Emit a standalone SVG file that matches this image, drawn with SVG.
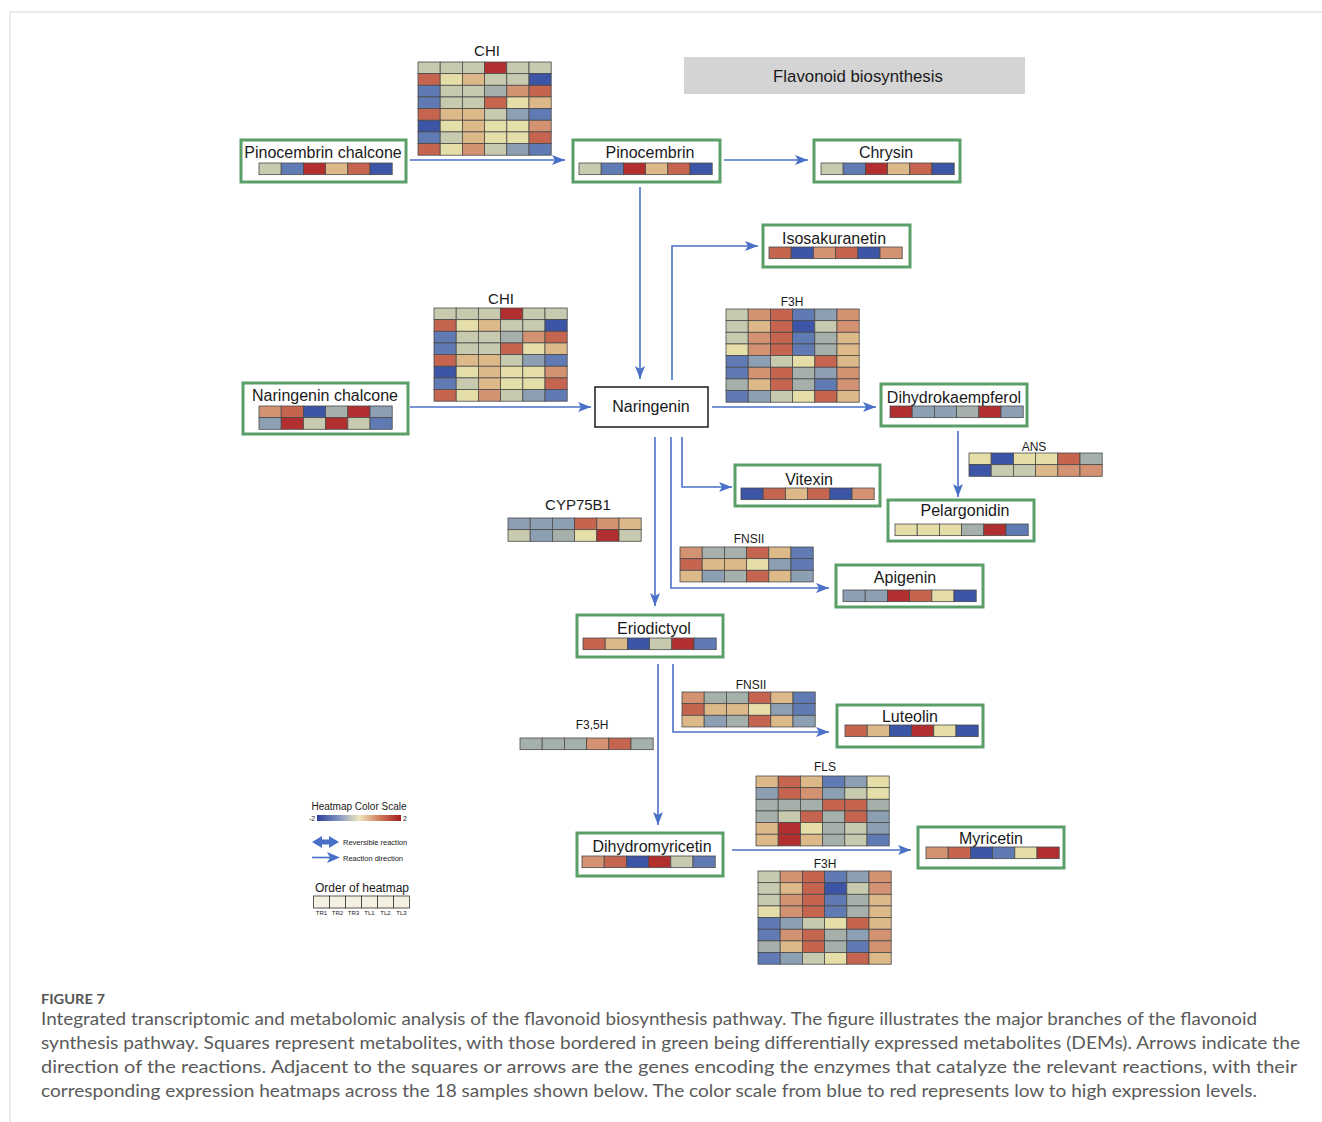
<svg xmlns="http://www.w3.org/2000/svg" xmlns:xlink="http://www.w3.org/1999/xlink" width="1322" height="1122" viewBox="0 0 1322 1122">
<style>
text{font-family:"Liberation Sans",Arial,sans-serif;fill:#1a1a1a}
.nl{font-size:16px;text-anchor:middle}
.el{font-size:12px;text-anchor:middle}
.elb{font-size:15px;text-anchor:middle}
.node rect.box{fill:#fff;stroke:#5a9e68;stroke-width:3}
.hm rect{width:22.2px;height:11.65px;stroke:#4a4a4a;stroke-width:0.8}
.R{fill:#b22f2f}.r{fill:#c5654f}.o{fill:#d39272}.t{fill:#ddb98a}.y{fill:#e6dea8}
.g{fill:#c7caae}.s{fill:#a5b0ab}.b{fill:#8d9fb2}.m{fill:#607ab3}.B{fill:#3c55a6}
.con path{fill:none;stroke:#4a70c8;stroke-width:1.6;marker-end:url(#ah)}
.cap{font-family:Lato,"Open Sans",sans-serif;font-size:17px;fill:#5a5a5a}
.leg{font-size:7.5px}
</style>
<defs>
<marker id="ah" markerUnits="userSpaceOnUse" markerWidth="14" markerHeight="10" refX="13" refY="5" orient="auto">
<path d="M0,0 L13,5 L0,10 L3,5 z" fill="#4a70c8"/>
</marker>
<linearGradient id="grad" x1="0" x2="1" y1="0" y2="0">
<stop offset="0" stop-color="#2d3f99"/><stop offset="0.25" stop-color="#7f90c2"/><stop offset="0.5" stop-color="#efe7bd"/><stop offset="0.75" stop-color="#d27a5a"/><stop offset="1" stop-color="#a51d1d"/>
</linearGradient>
<g id="hm-chi" class="hm">
<rect class="g" x="0" y="0"/><rect class="g" x="22.2" y="0"/><rect class="g" x="44.4" y="0"/><rect class="R" x="66.6" y="0"/><rect class="g" x="88.8" y="0"/><rect class="g" x="111" y="0"/>
<rect class="r" x="0" y="11.65"/><rect class="y" x="22.2" y="11.65"/><rect class="t" x="44.4" y="11.65"/><rect class="g" x="66.6" y="11.65"/><rect class="g" x="88.8" y="11.65"/><rect class="B" x="111" y="11.65"/>
<rect class="m" x="0" y="23.3"/><rect class="g" x="22.2" y="23.3"/><rect class="g" x="44.4" y="23.3"/><rect class="s" x="66.6" y="23.3"/><rect class="o" x="88.8" y="23.3"/><rect class="r" x="111" y="23.3"/>
<rect class="m" x="0" y="34.95"/><rect class="g" x="22.2" y="34.95"/><rect class="g" x="44.4" y="34.95"/><rect class="r" x="66.6" y="34.95"/><rect class="y" x="88.8" y="34.95"/><rect class="t" x="111" y="34.95"/>
<rect class="r" x="0" y="46.6"/><rect class="t" x="22.2" y="46.6"/><rect class="t" x="44.4" y="46.6"/><rect class="g" x="66.6" y="46.6"/><rect class="b" x="88.8" y="46.6"/><rect class="m" x="111" y="46.6"/>
<rect class="B" x="0" y="58.25"/><rect class="y" x="22.2" y="58.25"/><rect class="t" x="44.4" y="58.25"/><rect class="y" x="66.6" y="58.25"/><rect class="y" x="88.8" y="58.25"/><rect class="o" x="111" y="58.25"/>
<rect class="m" x="0" y="69.9"/><rect class="g" x="22.2" y="69.9"/><rect class="t" x="44.4" y="69.9"/><rect class="y" x="66.6" y="69.9"/><rect class="y" x="88.8" y="69.9"/><rect class="r" x="111" y="69.9"/>
<rect class="r" x="0" y="81.55"/><rect class="y" x="22.2" y="81.55"/><rect class="o" x="44.4" y="81.55"/><rect class="g" x="66.6" y="81.55"/><rect class="b" x="88.8" y="81.55"/><rect class="m" x="111" y="81.55"/>
</g>
<g id="hm-f3h" class="hm">
<rect class="g" x="0" y="0"/><rect class="o" x="22.2" y="0"/><rect class="r" x="44.4" y="0"/><rect class="m" x="66.6" y="0"/><rect class="b" x="88.8" y="0"/><rect class="o" x="111" y="0"/>
<rect class="g" x="0" y="11.65"/><rect class="t" x="22.2" y="11.65"/><rect class="r" x="44.4" y="11.65"/><rect class="B" x="66.6" y="11.65"/><rect class="g" x="88.8" y="11.65"/><rect class="o" x="111" y="11.65"/>
<rect class="g" x="0" y="23.3"/><rect class="o" x="22.2" y="23.3"/><rect class="r" x="44.4" y="23.3"/><rect class="m" x="66.6" y="23.3"/><rect class="s" x="88.8" y="23.3"/><rect class="t" x="111" y="23.3"/>
<rect class="y" x="0" y="34.95"/><rect class="o" x="22.2" y="34.95"/><rect class="r" x="44.4" y="34.95"/><rect class="m" x="66.6" y="34.95"/><rect class="s" x="88.8" y="34.95"/><rect class="t" x="111" y="34.95"/>
<rect class="m" x="0" y="46.6"/><rect class="b" x="22.2" y="46.6"/><rect class="g" x="44.4" y="46.6"/><rect class="y" x="66.6" y="46.6"/><rect class="r" x="88.8" y="46.6"/><rect class="t" x="111" y="46.6"/>
<rect class="m" x="0" y="58.25"/><rect class="o" x="22.2" y="58.25"/><rect class="r" x="44.4" y="58.25"/><rect class="s" x="66.6" y="58.25"/><rect class="b" x="88.8" y="58.25"/><rect class="o" x="111" y="58.25"/>
<rect class="s" x="0" y="69.9"/><rect class="t" x="22.2" y="69.9"/><rect class="r" x="44.4" y="69.9"/><rect class="s" x="66.6" y="69.9"/><rect class="m" x="88.8" y="69.9"/><rect class="o" x="111" y="69.9"/>
<rect class="m" x="0" y="81.55"/><rect class="b" x="22.2" y="81.55"/><rect class="g" x="44.4" y="81.55"/><rect class="y" x="66.6" y="81.55"/><rect class="r" x="88.8" y="81.55"/><rect class="t" x="111" y="81.55"/>
</g>
<g id="hm-fnsii" class="hm">
<rect class="o" x="0" y="0"/><rect class="s" x="22.2" y="0"/><rect class="s" x="44.4" y="0"/><rect class="r" x="66.6" y="0"/><rect class="t" x="88.8" y="0"/><rect class="m" x="111" y="0"/>
<rect class="r" x="0" y="11.65"/><rect class="t" x="22.2" y="11.65"/><rect class="t" x="44.4" y="11.65"/><rect class="y" x="66.6" y="11.65"/><rect class="b" x="88.8" y="11.65"/><rect class="m" x="111" y="11.65"/>
<rect class="t" x="0" y="23.3"/><rect class="b" x="22.2" y="23.3"/><rect class="s" x="44.4" y="23.3"/><rect class="r" x="66.6" y="23.3"/><rect class="t" x="88.8" y="23.3"/><rect class="b" x="111" y="23.3"/>
</g>
</defs>

<rect x="0" y="0" width="1322" height="1122" fill="#fff"/>
<line x1="10" y1="12" x2="1322" y2="12" stroke="#d8d8d8" stroke-width="1"/>
<line x1="10" y1="12" x2="10" y2="1122" stroke="#d8d8d8" stroke-width="1"/>

<g id="title">
<rect x="684" y="57" width="341" height="37" fill="#d4d4d4"/>
<text x="858" y="81.5" style="font-size:16.8px;text-anchor:middle">Flavonoid biosynthesis</text>
</g>

<g id="connectors" class="con">
<path d="M410,160 H565"/>
<path d="M724,160 H808"/>
<path d="M640,187 V379"/>
<path d="M672,380 V246 H758"/>
<path d="M410,407 H591"/>
<path d="M712,407 H876"/>
<path d="M958,431 V497"/>
<path d="M682,437 V487 H732"/>
<path d="M671,437 V588 H829"/>
<path d="M655,437 V606"/>
<path d="M658,664 V825"/>
<path d="M673,664 V732 H829"/>
<path d="M732,850 H911"/>
</g>

<g id="enz-chi-1"><text x="487" y="56" class="elb">CHI</text><use href="#hm-chi" x="418" y="62"/></g>
<g id="enz-chi-2"><text x="501" y="304" class="elb">CHI</text><use href="#hm-chi" x="434" y="308"/></g>
<g id="enz-f3h-1"><text x="792" y="306" class="el">F3H</text><use href="#hm-f3h" x="726" y="309"/></g>
<g id="enz-f3h-2"><text x="825" y="868" class="el">F3H</text><use href="#hm-f3h" x="758" y="871"/></g>
<g id="enz-fnsii-1"><text x="749" y="543" class="el">FNSII</text><use href="#hm-fnsii" x="680" y="547"/></g>
<g id="enz-fnsii-2"><text x="751" y="689" class="el">FNSII</text><use href="#hm-fnsii" x="682" y="692"/></g>
<g id="enz-ans"><text x="1034" y="451" class="el">ANS</text>
<g class="hm" transform="translate(969,453)">
<rect class="y" x="0" y="0"/><rect class="B" x="22.2" y="0"/><rect class="y" x="44.4" y="0"/><rect class="y" x="66.6" y="0"/><rect class="r" x="88.8" y="0"/><rect class="s" x="111" y="0"/>
<rect class="B" x="0" y="11.65"/><rect class="g" x="22.2" y="11.65"/><rect class="g" x="44.4" y="11.65"/><rect class="t" x="66.6" y="11.65"/><rect class="o" x="88.8" y="11.65"/><rect class="o" x="111" y="11.65"/>
</g></g>
<g id="enz-cyp75b1"><text x="578" y="510" class="elb">CYP75B1</text>
<g class="hm" transform="translate(508,518)">
<rect class="b" x="0" y="0"/><rect class="b" x="22.2" y="0"/><rect class="b" x="44.4" y="0"/><rect class="r" x="66.6" y="0"/><rect class="o" x="88.8" y="0"/><rect class="t" x="111" y="0"/>
<rect class="g" x="0" y="11.65"/><rect class="b" x="22.2" y="11.65"/><rect class="s" x="44.4" y="11.65"/><rect class="y" x="66.6" y="11.65"/><rect class="R" x="88.8" y="11.65"/><rect class="g" x="111" y="11.65"/>
</g></g>
<g id="enz-f35h"><text x="592" y="729" class="el">F3,5H</text>
<g class="hm" transform="translate(520,738)">
<rect class="s" x="0" y="0"/><rect class="s" x="22.2" y="0"/><rect class="s" x="44.4" y="0"/><rect class="o" x="66.6" y="0"/><rect class="r" x="88.8" y="0"/><rect class="s" x="111" y="0"/>
</g></g>
<g id="enz-fls"><text x="825" y="771" class="el">FLS</text>
<g class="hm" transform="translate(756,776)">
<rect class="t" x="0" y="0"/><rect class="r" x="22.2" y="0"/><rect class="t" x="44.4" y="0"/><rect class="m" x="66.6" y="0"/><rect class="b" x="88.8" y="0"/><rect class="y" x="111" y="0"/>
<rect class="b" x="0" y="11.65"/><rect class="r" x="22.2" y="11.65"/><rect class="o" x="44.4" y="11.65"/><rect class="b" x="66.6" y="11.65"/><rect class="g" x="88.8" y="11.65"/><rect class="y" x="111" y="11.65"/>
<rect class="s" x="0" y="23.3"/><rect class="s" x="22.2" y="23.3"/><rect class="s" x="44.4" y="23.3"/><rect class="r" x="66.6" y="23.3"/><rect class="r" x="88.8" y="23.3"/><rect class="s" x="111" y="23.3"/>
<rect class="s" x="0" y="34.95"/><rect class="g" x="22.2" y="34.95"/><rect class="r" x="44.4" y="34.95"/><rect class="s" x="66.6" y="34.95"/><rect class="r" x="88.8" y="34.95"/><rect class="b" x="111" y="34.95"/>
<rect class="t" x="0" y="46.6"/><rect class="R" x="22.2" y="46.6"/><rect class="y" x="44.4" y="46.6"/><rect class="s" x="66.6" y="46.6"/><rect class="g" x="88.8" y="46.6"/><rect class="b" x="111" y="46.6"/>
<rect class="t" x="0" y="58.25"/><rect class="R" x="22.2" y="58.25"/><rect class="t" x="44.4" y="58.25"/><rect class="s" x="66.6" y="58.25"/><rect class="g" x="88.8" y="58.25"/><rect class="m" x="111" y="58.25"/>
</g></g>

<g id="node-pinocembrin-chalcone" class="node">
<rect class="box" x="241" y="140" width="165" height="42"/>
<text x="323" y="158" class="nl">Pinocembrin chalcone</text>
<g class="hm" transform="translate(259,163)"><rect class="g" x="0" y="0"/><rect class="m" x="22.2" y="0"/><rect class="R" x="44.4" y="0"/><rect class="t" x="66.6" y="0"/><rect class="r" x="88.8" y="0"/><rect class="B" x="111" y="0"/></g>
</g>
<g id="node-pinocembrin" class="node">
<rect class="box" x="573" y="140" width="147" height="42"/>
<text x="650" y="158" class="nl">Pinocembrin</text>
<g class="hm" transform="translate(579,163)"><rect class="g" x="0" y="0"/><rect class="m" x="22.2" y="0"/><rect class="R" x="44.4" y="0"/><rect class="t" x="66.6" y="0"/><rect class="r" x="88.8" y="0"/><rect class="B" x="111" y="0"/></g>
</g>
<g id="node-chrysin" class="node">
<rect class="box" x="814" y="140" width="146" height="42"/>
<text x="886" y="158" class="nl">Chrysin</text>
<g class="hm" transform="translate(821,163)"><rect class="g" x="0" y="0"/><rect class="m" x="22.2" y="0"/><rect class="R" x="44.4" y="0"/><rect class="t" x="66.6" y="0"/><rect class="r" x="88.8" y="0"/><rect class="B" x="111" y="0"/></g>
</g>
<g id="node-isosakuranetin" class="node">
<rect class="box" x="763" y="225" width="147" height="42"/>
<text x="834" y="244" class="nl">Isosakuranetin</text>
<g class="hm" transform="translate(769,247)"><rect class="r" x="0" y="0"/><rect class="B" x="22.2" y="0"/><rect class="o" x="44.4" y="0"/><rect class="r" x="66.6" y="0"/><rect class="B" x="88.8" y="0"/><rect class="o" x="111" y="0"/></g>
</g>
<g id="node-naringenin-chalcone" class="node">
<rect class="box" x="243" y="383" width="165" height="51"/>
<text x="325" y="401" class="nl">Naringenin chalcone</text>
<g class="hm" transform="translate(259,406)">
<rect class="o" x="0" y="0"/><rect class="r" x="22.2" y="0"/><rect class="B" x="44.4" y="0"/><rect class="s" x="66.6" y="0"/><rect class="R" x="88.8" y="0"/><rect class="b" x="111" y="0"/>
<rect class="b" x="0" y="11.65"/><rect class="R" x="22.2" y="11.65"/><rect class="g" x="44.4" y="11.65"/><rect class="R" x="66.6" y="11.65"/><rect class="g" x="88.8" y="11.65"/><rect class="m" x="111" y="11.65"/>
</g>
</g>
<g id="node-naringenin">
<rect x="595" y="387" width="113" height="40" fill="#fff" stroke="#1a1a1a" stroke-width="1.5"/>
<text x="651" y="412" class="nl">Naringenin</text>
</g>
<g id="node-dihydrokaempferol" class="node">
<rect class="box" x="881" y="384" width="146" height="42"/>
<text x="954" y="403" class="nl">Dihydrokaempferol</text>
<g class="hm" transform="translate(890,406)"><rect class="R" x="0" y="0"/><rect class="b" x="22.2" y="0"/><rect class="b" x="44.4" y="0"/><rect class="s" x="66.6" y="0"/><rect class="R" x="88.8" y="0"/><rect class="b" x="111" y="0"/></g>
</g>
<g id="node-vitexin" class="node">
<rect class="box" x="735" y="465" width="145" height="41"/>
<text x="809" y="485" class="nl">Vitexin</text>
<g class="hm" transform="translate(741,488)"><rect class="B" x="0" y="0"/><rect class="r" x="22.2" y="0"/><rect class="t" x="44.4" y="0"/><rect class="r" x="66.6" y="0"/><rect class="B" x="88.8" y="0"/><rect class="o" x="111" y="0"/></g>
</g>
<g id="node-pelargonidin" class="node">
<rect class="box" x="888" y="500" width="146" height="41"/>
<text x="965" y="516" class="nl">Pelargonidin</text>
<g class="hm" transform="translate(895,524)"><rect class="y" x="0" y="0"/><rect class="y" x="22.2" y="0"/><rect class="y" x="44.4" y="0"/><rect class="s" x="66.6" y="0"/><rect class="R" x="88.8" y="0"/><rect class="m" x="111" y="0"/></g>
</g>
<g id="node-apigenin" class="node">
<rect class="box" x="836" y="565" width="147" height="42"/>
<text x="905" y="583" class="nl">Apigenin</text>
<g class="hm" transform="translate(843,590)"><rect class="b" x="0" y="0"/><rect class="b" x="22.2" y="0"/><rect class="R" x="44.4" y="0"/><rect class="r" x="66.6" y="0"/><rect class="y" x="88.8" y="0"/><rect class="B" x="111" y="0"/></g>
</g>
<g id="node-eriodictyol" class="node">
<rect class="box" x="577" y="615" width="146" height="42"/>
<text x="654" y="634" class="nl">Eriodictyol</text>
<g class="hm" transform="translate(583,638)"><rect class="r" x="0" y="0"/><rect class="t" x="22.2" y="0"/><rect class="B" x="44.4" y="0"/><rect class="g" x="66.6" y="0"/><rect class="R" x="88.8" y="0"/><rect class="m" x="111" y="0"/></g>
</g>
<g id="node-luteolin" class="node">
<rect class="box" x="837" y="705" width="146" height="42"/>
<text x="910" y="722" class="nl">Luteolin</text>
<g class="hm" transform="translate(845,725)"><rect class="r" x="0" y="0"/><rect class="t" x="22.2" y="0"/><rect class="B" x="44.4" y="0"/><rect class="R" x="66.6" y="0"/><rect class="y" x="88.8" y="0"/><rect class="B" x="111" y="0"/></g>
</g>
<g id="node-dihydromyricetin" class="node">
<rect class="box" x="577" y="833" width="146" height="43"/>
<text x="652" y="852" class="nl">Dihydromyricetin</text>
<g class="hm" transform="translate(582,856)"><rect class="o" x="0" y="0"/><rect class="r" x="22.2" y="0"/><rect class="B" x="44.4" y="0"/><rect class="R" x="66.6" y="0"/><rect class="g" x="88.8" y="0"/><rect class="m" x="111" y="0"/></g>
</g>
<g id="node-myricetin" class="node">
<rect class="box" x="918" y="827" width="146" height="41"/>
<text x="991" y="844" class="nl">Myricetin</text>
<g class="hm" transform="translate(926,847)"><rect class="o" x="0" y="0"/><rect class="r" x="22.2" y="0"/><rect class="B" x="44.4" y="0"/><rect class="m" x="66.6" y="0"/><rect class="y" x="88.8" y="0"/><rect class="R" x="111" y="0"/></g>
</g>

<g id="legend">
<text x="359" y="810" style="font-size:10px;text-anchor:middle">Heatmap Color Scale</text>
<text x="312" y="821" style="font-size:7px;text-anchor:middle">-2</text>
<rect x="317" y="815" width="84" height="6" fill="url(#grad)"/>
<text x="405" y="821" style="font-size:7px;text-anchor:middle">2</text>
<polygon points="312,842 322,836 322,839.5 329,839.5 329,836 339,842 329,848 329,844.5 322,844.5 322,848" fill="#4a70c8"/>
<text x="343" y="844.5" class="leg">Reversible reaction</text>
<line x1="312" y1="857.5" x2="330" y2="857.5" stroke="#4a70c8" stroke-width="1.6"/>
<polygon points="327,852 340,857.5 327,863 330,857.5" fill="#4a70c8"/>
<text x="343" y="860.5" class="leg">Reaction direction</text>
<text x="362" y="892" style="font-size:12px;text-anchor:middle">Order of heatmap</text>
<g fill="#f4f1e3" stroke="#333" stroke-width="0.8">
<rect x="313.5" y="896" width="16" height="12"/><rect x="329.5" y="896" width="16" height="12"/><rect x="345.5" y="896" width="16" height="12"/><rect x="361.5" y="896" width="16" height="12"/><rect x="377.5" y="896" width="16" height="12"/><rect x="393.5" y="896" width="16" height="12"/>
</g>
<g style="font-size:6px;text-anchor:middle">
<text x="321.5" y="915">TR1</text><text x="337.5" y="915">TR2</text><text x="353.5" y="915">TR3</text><text x="369.5" y="915">TL1</text><text x="385.5" y="915">TL2</text><text x="401.5" y="915">TL3</text>
</g>
</g>

<g id="caption">
<text x="41" y="1004" style="font-family:Lato,'Open Sans',sans-serif;font-size:13px;fill:#555;font-weight:bold" textLength="64" lengthAdjust="spacingAndGlyphs">FIGURE 7</text>
<text x="41" y="1025" class="cap" textLength="1216" lengthAdjust="spacingAndGlyphs">Integrated transcriptomic and metabolomic analysis of the flavonoid biosynthesis pathway. The figure illustrates the major branches of the flavonoid</text>
<text x="41" y="1049" class="cap" textLength="1259" lengthAdjust="spacingAndGlyphs">synthesis pathway. Squares represent metabolites, with those bordered in green being differentially expressed metabolites (DEMs). Arrows indicate the</text>
<text x="41" y="1073" class="cap" textLength="1256" lengthAdjust="spacingAndGlyphs">direction of the reactions. Adjacent to the squares or arrows are the genes encoding the enzymes that catalyze the relevant reactions, with their</text>
<text x="41" y="1097" class="cap" textLength="1216" lengthAdjust="spacingAndGlyphs">corresponding expression heatmaps across the 18 samples shown below. The color scale from blue to red represents low to high expression levels.</text>
</g>
</svg>
